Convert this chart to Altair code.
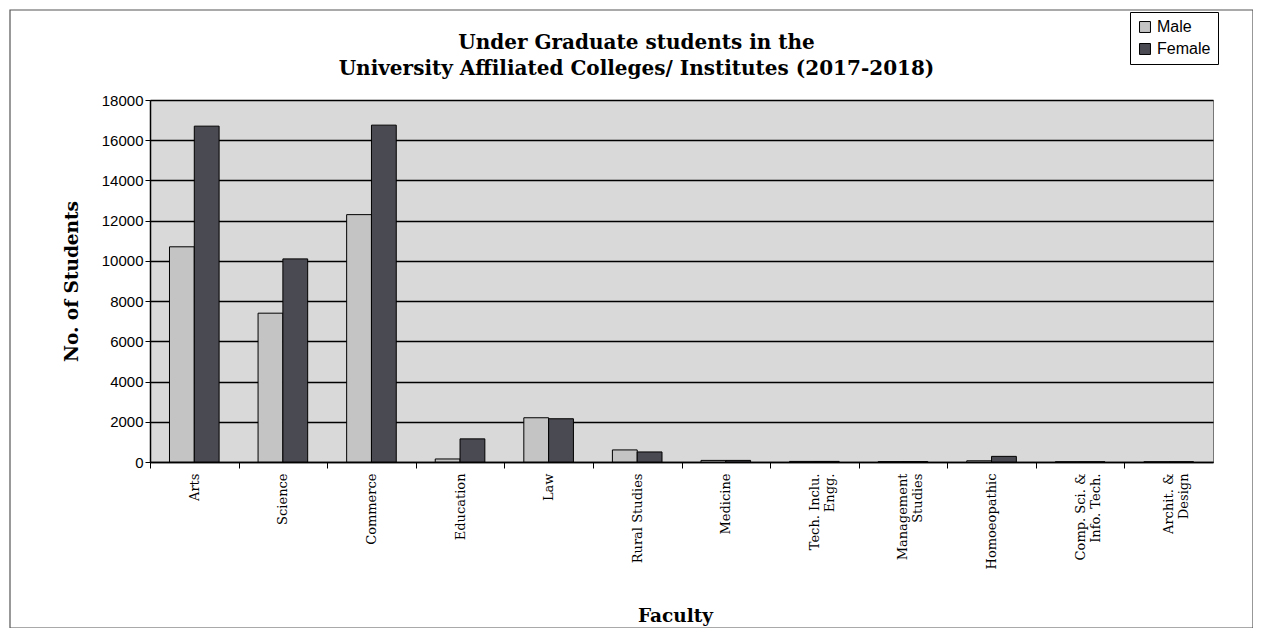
import altair as alt
import pandas as pd

faculties = ["Arts", "Science", "Commerce", "Education", "Law", "Rural Studies",
             "Medicine", "Tech. Inclu.|Engg.", "Management|Studies", "Homoeopathic",
             "Comp. Sci. &|Info. Tech.", "Archit. &|Design"]
male = [10700, 7400, 12300, 150, 2200, 600, 80, 30, 20, 60, 10, 10]
female = [16700, 10100, 16750, 1150, 2150, 500, 80, 30, 20, 280, 10, 10]
series = ["Male", "Female"]
y_ticks = list(range(0, 18001, 2000))

rows = []
for f, m, w in zip(faculties, male, female):
    rows.append({"Faculty": f, "Gender": "Male", "Students": m})
    rows.append({"Faculty": f, "Gender": "Female", "Students": w})
df = pd.DataFrame(rows)

W, H = 1063, 362
half_band = W / 24

bars = alt.Chart(df).mark_bar(stroke="black", strokeWidth=1).encode(
    x=alt.X("Faculty:N", sort=faculties,
            scale=alt.Scale(paddingInner=0.44, paddingOuter=0.22),
            axis=alt.Axis(title="Faculty", labelAngle=270, labelAlign="right",
                          labelBaseline="middle", labelExpr="split(datum.value, '|')",
                          labelFont="DejaVu Serif", labelFontSize=13, labelColor="black",
                          labelPadding=5, labelLineHeight=15,
                          tickOffset=-half_band, labelOffset=half_band,
                          tickSize=6, tickColor="black",
                          domainColor="black", domainWidth=1.5,
                          titleFont="DejaVu Serif", titleFontSize=18.5, titleFontWeight="bold",
                          titleColor="black", titlePadding=38, titleX=525)),
    xOffset=alt.XOffset("Gender:N", sort=series),
    y=alt.Y("Students:Q", scale=alt.Scale(domain=[0, 18000], nice=False),
            axis=alt.Axis(title="No. of Students", values=y_ticks, format="d",
                          labelFont="Liberation Sans", labelFontSize=15, labelColor="black",
                          tickSize=5, tickColor="black", domainColor="black", domainWidth=1.5,
                          gridColor="black", gridWidth=1.5,
                          titleFont="DejaVu Serif", titleFontSize=18.5, titleFontWeight="bold",
                          titleColor="black", titlePadding=20)),
    color=alt.Color("Gender:N", sort=series,
                    scale=alt.Scale(domain=series, range=["#c4c4c4", "#4a4a52"]),
                    legend=alt.Legend(title=None, orient="none", legendX=980, legendY=-88,
                                      strokeColor="black", padding=7, fillColor="white",
                                      symbolType="square", symbolSize=120,
                                      symbolStrokeColor="black", symbolStrokeWidth=1,
                                      labelFont="Liberation Sans", labelFontSize=16,
                                      labelColor="black", rowPadding=6)),
)

frame = alt.Chart(pd.DataFrame({"a": [0]})).mark_rect(
    fill=None, stroke="#555555", strokeWidth=1.2
).encode(x=alt.value(-140), x2=alt.value(1103), y=alt.value(-90), y2=alt.value(528))

chart = alt.layer(frame, bars).properties(
    width=W, height=H,
    title=alt.TitleParams(
        ["Under Graduate students in the",
         "University Affiliated Colleges/ Institutes (2017-2018)"],
        font="DejaVu Serif", fontSize=20, fontWeight="bold", color="black",
        anchor="middle", dx=-45, offset=-70, lineHeight=26),
    autosize=alt.AutoSizeParams(type="none"),
    padding={"left": 142, "top": 92, "right": 40, "bottom": 166},
).configure_view(fill="#d9d9d9", stroke="#777777", strokeWidth=1)

chart.save("out.html", embed_options={"renderer": "svg", "actions": False})
